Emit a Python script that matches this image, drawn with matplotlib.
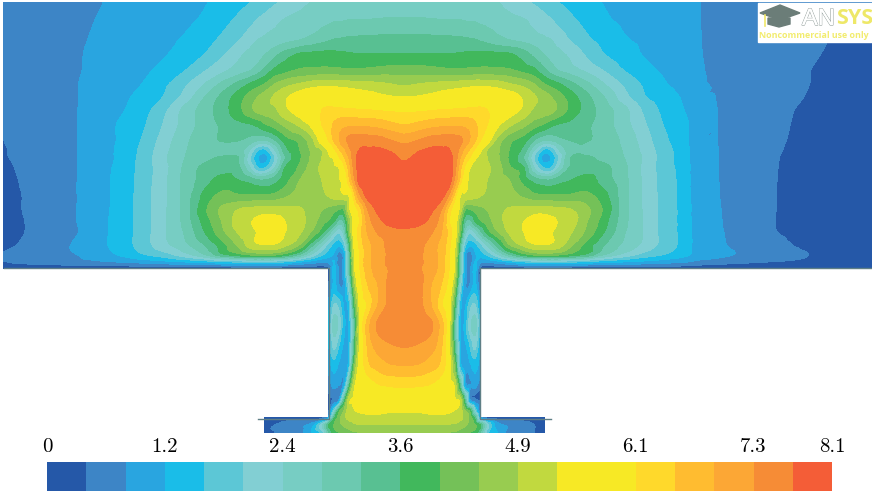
#!/usr/bin/env python
"""
Filled velocity contours over the jet geometry, with the colour bar below.
Field values are read off the picture in colour-band units (band k spans k..k+1).
"""

import matplotlib

matplotlib.use("Agg")
import matplotlib.patheffects as pe
import matplotlib.pyplot as plt
import matplotlib.tri as mtri
import numpy as np
from matplotlib.patches import Polygon, Rectangle

n = np.nan

# x of the left half, the centre line is at the last column
x_left = [4, 25, 50, 75, 100, 125, 145, 165, 185, 205, 222, 240, 250, 258, 265, 275,
          285, 300, 312, 322, 329, 334, 339, 344, 349, 354, 360, 368, 378, 390, 404]
y_rows = [3, 20, 40, 55, 70, 85, 97, 110, 125, 140, 150, 158, 168, 180, 195, 210,
          222, 232, 245, 255, 262, 268, 285, 305, 325, 345, 365, 385, 400, 411, 418, 425, 432]

# outer columns of the right side, the domain is longer there
x_right = [700, 717, 735, 755, 775, 790, 805, 820, 840, 872]

bands_left = [
    [1.25, 1.4, 1.55, 1.75, 1.97, 2.2, 2.35, 2.55, 2.75, 2.95, 3.3, 3.75, 4, 4.3, 4.55, 4.9, 5.2, 5.7, 6.05, 6.2, 6.3, 6.3, 6.35, 6.4, 6.4, 6.45, 6.5, 6.5, 6.55, 6.6, 6.6],
    [1.2, 1.4, 1.6, 1.8, 2.05, 2.3, 2.45, 2.65, 2.85, 3.15, 3.65, 4.25, 4.65, 5.05, 5.3, 5.7, 6.05, 6.3, 6.5, 6.7, 6.8, 6.9, 6.9, 6.95, 7, 7, 7, 7.02, 7.05, 7.1, 7.1],
    [1.15, 1.35, 1.6, 1.85, 2.15, 2.45, 2.65, 2.85, 3.1, 3.65, 4.2, 5, 5.6, 6, 6.2, 6.45, 6.7, 7, 7.35, 7.7, 7.9, 8.05, 8.1, 8.15, 8.2, 8.2, 8.25, 8.25, 8.3, 8.3, 8.3],
    [1.1, 1.35, 1.6, 1.9, 2.2, 2.5, 2.7, 2.95, 3.45, 4.05, 4.85, 5.85, 6.3, 6.6, 7, 7.75, 8.5, 9.2, 9.3, 9.35, 9.35, 9.3, 9.25, 9.2, 9.15, 9.1, 9.1, 9.1, 9.1, 9.1, 9.1],
    [1.05, 1.3, 1.6, 1.9, 2.25, 2.6, 2.85, 3.3, 3.95, 4.9, 5.7, 6.5, 6.9, 7.5, 8.2, 9.2, 9.6, 10.1, 10.2, 10.25, 10.25, 10.2, 10.2, 10.15, 10.1, 10.1, 10.15, 10.2, 10.3, 10.4, 10.4],
    [1.05, 1.3, 1.6, 1.95, 2.3, 2.7, 3.1, 3.85, 4.85, 6.1, 7.3, 8.5, 9.2, 9.7, 10.15, 11.1, 11.7, 12.2, 12.6, 12.75, 12.8, 12.8, 12.7, 12.65, 12.6, 12.55, 12.5, 12.4, 12.3, 12.1, 11.9],
    [1.05, 1.3, 1.6, 1.95, 2.35, 2.85, 3.4, 4.1, 5.35, 7, 8.25, 9.6, 10.4, 11, 11.5, 12.15, 12.8, 13.6, 14, 14.1, 14.1, 14.05, 14, 13.9, 13.8, 13.7, 13.6, 13.5, 13.3, 13.1, 13],
    [1, 1.3, 1.6, 1.95, 2.4, 3, 3.7, 4.8, 6.3, 7.5, 8.5, 9.8, 10.7, 11.3, 11.5, 11.8, 12.7, 13.6, 14.5, 15, 15.2, 15.2, 15.2, 15.15, 15.1, 15.1, 15, 15, 14.9, 14.8, 14.7],
    [1, 1.3, 1.6, 1.95, 2.45, 3.3, 3.95, 5.15, 6.4, 7.45, 8.15, 8.7, 8.85, 9.2, 9.8, 10.4, 11.2, 12.2, 13.3, 15, 15.7, 16.1, 16.5, 16.7, 16.8, 16.8, 16.8, 16.75, 16.6, 16.3, 16],
    [1, 1.25, 1.6, 1.95, 2.5, 3.3, 4.2, 5.5, 6.75, 7.6, 8.05, 8, 7.6, 7.1, 7, 8, 9.4, 10.3, 11.7, 13.7, 15.1, 16.1, 16.9, 17.7, 18.2, 18.4, 18.5, 18.5, 18.4, 18, 17.6],
    [0.95, 1.25, 1.6, 1.95, 2.55, 3.4, 4.4, 5.7, 6.9, 7.5, 7.65, 7.4, 5.9, 4, 3.7, 6, 8.5, 10, 11.2, 12, 13.3, 14.7, 15.8, 16.6, 17.7, 18.4, 19.05, 19.15, 19.15, 18.9, 18.5],
    [0.93, 1.2, 1.6, 1.95, 2.55, 3.4, 4.5, 5.85, 7, 7.7, 8.1, 7.8, 5, 3, 2.5, 5, 7.9, 9.85, 11.2, 12, 12.7, 13.2, 14.8, 15.8, 17, 18.5, 19.4, 19.5, 19.4, 19.3, 18.85],
    [0.85, 1.15, 1.6, 1.95, 2.6, 3.5, 4.5, 5.7, 7.2, 8.3, 8.5, 8, 6, 4, 4, 6, 9, 10.2, 11.5, 12.2, 12.5, 12.65, 12.95, 14.7, 16.3, 18.2, 19.5, 19.8, 19.8, 19.7, 19.3],
    [0.8, 1.1, 1.6, 1.95, 2.65, 3.55, 4.55, 5.8, 7.3, 8.5, 9.4, 8.9, 8.5, 8, 8, 8.5, 9.5, 11, 11.5, 12, 12.4, 12.6, 12.85, 13.5, 15.7, 17.6, 19.6, 19.9, 19.9, 19.9, 19.7],
    [0.75, 1.05, 1.6, 1.95, 2.65, 3.55, 4.6, 5.8, 7.35, 9.3, 10.2, 10.05, 10, 10, 10, 10.2, 10.7, 11.4, 11.6, 11.8, 12.1, 12.4, 12.65, 12.85, 13.1, 15.5, 17.9, 19.5, 19.9, 19.9, 19.9],
    [0.7, 1.05, 1.55, 1.95, 2.65, 3.6, 4.6, 5.85, 7.4, 9.8, 11.2, 12.1, 12.3, 12.4, 12.5, 12.4, 12.3, 12.1, 11.6, 11, 10.6, 10.3, 9.85, 9.95, 12.5, 14, 15.5, 18, 19.2, 19.9, 19.9],
    [0.62, 1, 1.55, 1.95, 2.7, 3.6, 4.6, 5.9, 7.3, 9.4, 11, 12.6, 12.9, 13.3, 13.5, 13.6, 13, 12.3, 11.5, 10.3, 9.7, 8.8, 7.5, 8, 11, 13.7, 15.1, 17.4, 18.6, 19.3, 19.6],
    [0.55, 1, 1.5, 1.9, 2.7, 3.6, 4.6, 5.9, 7.1, 9, 10.7, 12.2, 12.6, 13.1, 13.6, 13.6, 13, 12.1, 10.8, 9.3, 7.5, 6, 5.2, 6.5, 10.5, 13.7, 15.6, 17.1, 18.1, 18.5, 18.7],
    [0.6, 1.2, 1.5, 2.1, 2.75, 3.6, 4.6, 5.7, 6.7, 8, 9.5, 11.3, 12.4, 12.8, 12.9, 12.8, 12.2, 10.8, 8.2, 6, 4.5, 3.6, 3.2, 4.3, 8.5, 13, 15.3, 16.6, 17.5, 18.3, 18.6],
    [1.1, 1.4, 1.7, 1.95, 2.5, 3.2, 3.9, 4.5, 5.5, 6.8, 8.5, 9.4, 9.9, 10, 10, 9.9, 9.2, 7.5, 5.5, 4, 3.3, 2.8, 1.5, 2.5, 7.5, 12.7, 15, 16.6, 17.4, 18.2, 18.6],
    [0.95, 1.2, 1.4, 1.6, 1.8, 2.05, 2.3, 2.6, 2.9, 3.2, 3.6, 4, 4.2, 4.2, 4.2, 4.1, 3.8, 3, 2.4, 2.1, 2.2, 3, 1.2, 2.5, 7.5, 12.6, 15, 16.6, 17.5, 18.2, 18.6],
    [0.4, 0.3, 0.3, 0.3, 0.3, 0.3, 0.3, 0.3, 0.3, 0.3, 0.3, 0.3, 0.3, 0.3, 0.3, 0.3, 0.3, 0.3, 0.3, 0.3, 0.8, 3.3, 1.8, 2.5, 7.5, 12.5, 15, 16.5, 17.5, 18.1, 18.7],
    [n, n, n, n, n, n, n, n, n, n, n, n, n, n, n, n, n, n, n, n, 1, 3.2, 2, 2.2, 5.5, 11, 14.3, 16, 17, 18.3, 18.8],
    [n, n, n, n, n, n, n, n, n, n, n, n, n, n, n, n, n, n, n, n, 2.5, 5, 4.5, 2.8, 3.5, 9, 13.5, 15.2, 17, 18.3, 18.9],
    [n, n, n, n, n, n, n, n, n, n, n, n, n, n, n, n, n, n, n, n, 3.5, 6.5, 5.5, 3.2, 3, 7.5, 13.5, 16.5, 18.2, 18.8, 18.9],
    [n, n, n, n, n, n, n, n, n, n, n, n, n, n, n, n, n, n, n, n, 3, 5.3, 4, 2.8, 3.2, 8, 13.3, 16.2, 17.4, 17.9, 18.1],
    [n, n, n, n, n, n, n, n, n, n, n, n, n, n, n, n, n, n, n, n, 2.5, 3.5, 2.8, 2.3, 3.5, 10, 13.7, 15.7, 16.4, 16.9, 17],
    [n, n, n, n, n, n, n, n, n, n, n, n, n, n, n, n, n, n, n, n, 1.5, 2.3, 2, 2.5, 8, 12.5, 13.4, 14.3, 14.9, 15.1, 15.2],
    [n, n, n, n, n, n, n, n, n, n, n, n, n, n, n, n, n, n, n, n, 0.7, 1.2, 2, 8, 12.5, 13.1, 13.4, 13.7, 13.9, 14, 14],
    [n, n, n, n, n, n, n, n, n, n, n, n, n, n, n, n, n, n, n, n, 1, 5, 9.5, 11, 12.5, 12.9, 13.1, 13.2, 13.2, 13.1, 13.1],
    [n, n, n, n, n, n, n, n, n, n, n, n, n, n, 0.3, 0.3, 0.4, 0.5, 0.5, 0.8, 3, 8.5, 10.5, 11.7, 12.2, 12.4, 12.6, 12.7, 12.7, 12.6, 12.7],
    [n, n, n, n, n, n, n, n, n, n, n, n, n, n, 0.6, 1, 1.5, 1.8, 2.5, 5.5, 9, 10, 10.6, 11.1, 11.5, 11.8, 11.9, 11.95, 11.95, 11.9, 11.95],
    [n, n, n, n, n, n, n, n, n, n, n, n, n, n, 0.9, 1, 1.3, 1.7, 3, 4.5, 8, 9.6, 10, 10.3, 10.6, 10.9, 11, 11.2, 11.2, 11.3, 11.4],
]

# rows down to the wall at y=268, the rest of the table is outside the domain
bands_right = [
    [2, 1.85, 1.7, 1.55, 1.4, 1.3, 1.2, 1.12, 1.06, 1],
    [2, 1.85, 1.7, 1.55, 1.4, 1.28, 1.18, 1.1, 1.03, 0.96],
    [2.02, 1.85, 1.68, 1.5, 1.35, 1.22, 1.12, 1.04, 0.95, 0.85],
    [2.04, 1.85, 1.65, 1.45, 1.3, 1.18, 1.08, 1, 0.92, 0.8],
    [2.08, 1.87, 1.62, 1.42, 1.25, 1.13, 1.03, 0.95, 0.85, 0.72],
    [2.12, 1.93, 1.6, 1.38, 1.2, 1.1, 1.03, 0.9, 0.8, 0.68],
    [2.15, 1.98, 1.6, 1.36, 1.17, 1.07, 0.99, 0.88, 0.78, 0.65],
    [2.15, 2, 1.6, 1.33, 1.14, 1.03, 0.92, 0.84, 0.75, 0.62],
    [2.15, 2, 1.6, 1.3, 1.12, 1, 0.9, 0.82, 0.72, 0.6],
    [2.15, 2, 1.6, 1.3, 1.1, 0.97, 0.87, 0.8, 0.7, 0.6],
    [2.15, 2.02, 1.6, 1.3, 1.07, 0.94, 0.85, 0.78, 0.7, 0.6],
    [2.15, 2.02, 1.6, 1.3, 1.04, 0.92, 0.83, 0.77, 0.7, 0.6],
    [2.15, 2.02, 1.6, 1.3, 1.03, 0.9, 0.82, 0.76, 0.7, 0.6],
    [2.15, 2.03, 1.6, 1.3, 1.02, 0.9, 0.82, 0.76, 0.7, 0.6],
    [2.2, 2.05, 1.6, 1.3, 1.01, 0.88, 0.8, 0.75, 0.7, 0.6],
    [2.25, 2.08, 1.65, 1.3, 1.01, 0.88, 0.8, 0.75, 0.7, 0.6],
    [2.3, 2.1, 1.7, 1.3, 1, 0.88, 0.8, 0.75, 0.7, 0.6],
    [2.3, 2.13, 1.75, 1.35, 1.02, 0.9, 0.8, 0.75, 0.7, 0.6],
    [2.4, 2.2, 1.8, 1.5, 1.2, 1.02, 0.85, 0.75, 0.7, 0.6],
    [2.6, 2.3, 1.95, 1.6, 1.3, 1.2, 1.03, 0.9, 0.8, 0.75],
    [1.6, 1.4, 1.2, 1.05, 0.95, 0.9, 0.85, 0.8, 0.8, 0.8],
    [0.3, 0.3, 0.3, 0.3, 0.3, 0.3, 0.3, 0.3, 0.3, 0.3],
]

band_colors = ["#2558a8", "#3d85c6", "#29a5e0", "#1abde8", "#5cc7d6", "#82cfd3", "#77cdc3",
               "#6cc9b0", "#58c092", "#41b85c", "#74c158", "#98cc50", "#c1d93f", "#f7e925",
               "#f7e925", "#ffd92b", "#ffbc30", "#fca735", "#f68c36", "#f45d37"]
tick_values = [0, 1.215, 2.43, 3.645, 4.86, 6.075, 7.29, 8.1]
tick_labels = ["0", "1.2", "2.4", "3.6", "4.9", "6.1", "7.3", "8.1"]

V_MAX = 8.1
CENTRE_SUM = 809  # x + mirrored x, walls at 329 and 480

plt.rcParams["font.family"] = ["cmr10", "DejaVu Serif"]
plt.rcParams["axes.formatter.use_mathtext"] = True

left = np.array(bands_left)
outer = np.full((len(y_rows), len(x_right)), np.nan)
outer[: len(bands_right)] = np.array(bands_right)

# right half is the left half mirrored, out to x=125 on the left side
x_mid = [CENTRE_SUM - x for x in x_left[29:4:-1]]
mid = left[:, 29:4:-1]
xs = np.array(x_left + x_mid + x_right, dtype=float)
ys = np.array(y_rows, dtype=float)
field = np.hstack([left, mid, outer]) * V_MAX / len(band_colors)
levels = np.linspace(0, V_MAX, len(band_colors) + 1)

# triangles of the table, without the cells that touch the empty part
gx, gy = np.meshgrid(xs, ys)
nrow, ncol = gx.shape
valid = np.isfinite(field)
triangles = []
for i in range(nrow - 1):
    for j in range(ncol - 1):
        a, b, c, d = i * ncol + j, i * ncol + j + 1, (i + 1) * ncol + j, (i + 1) * ncol + j + 1
        if valid[i, j] and valid[i, j + 1] and valid[i + 1, j] and valid[i + 1, j + 1]:
            triangles += [[a, b, c], [b, d, c]]
tri = mtri.Triangulation(gx.ravel(), gy.ravel(), triangles)

# smooth band edges with matplotlib's own mesh refiner
refiner = mtri.UniformTriRefiner(tri)
fine_tri, fine_field = refiner.refine_field(
    np.nan_to_num(field).ravel(),
    triinterpolator=mtri.CubicTriInterpolator(tri, np.nan_to_num(field).ravel(), kind="geom"),
    subdiv=3,
)
fine_field = np.clip(fine_field, 0.01, V_MAX - 0.01)

fig = plt.figure(figsize=(8.72, 4.94), dpi=100)
ax = fig.add_axes([0, 0, 1, 1])
ax.set_xlim(0, 872)
ax.set_ylim(494, 0)
ax.axis("off")

cs = ax.tricontourf(fine_tri, fine_field, levels=levels, colors=band_colors)
cs.set_edgecolor("face")
cs.set_linewidth(0.3)

# walls
wall = "#5f7f86"
ax.plot([4, 329, 329, 258], [268, 268, 419, 419], color=wall, lw=1.0)
ax.plot([872, 480, 480, 551], [268, 268, 419, 419], color=wall, lw=1.0)

# licence stamp in the corner
ax.add_patch(Rectangle((758, 3), 114, 39, color="white", zorder=3))
ax.add_patch(Polygon([[760, 13], [780, 5], [800, 13], [780, 20]], color="#6b7d78", zorder=4))
ax.add_patch(Polygon([[768, 18], [790, 18], [790, 24], [779, 27], [768, 24]], color="#6b7d78", zorder=4))
ax.plot([765, 765], [15, 26], color="#f0e868", lw=1.2, zorder=5)
ax.text(802, 19, "AN", family="Liberation Sans", fontsize=17, color="white", va="center", ha="left",
        zorder=5, path_effects=[pe.withStroke(linewidth=0.9, foreground="#9aa5a2"), pe.Normal()])
ax.text(836, 19, "SYS", family="Open Sans", weight="bold", fontsize=15.5, color="#eee868", va="center",
        ha="left", zorder=5)
ax.text(759, 35.5, "Noncommercial use only", family="Open Sans", weight="bold", fontsize=6.4,
        color="#f2ec6e", va="center", ha="left", zorder=5)

# colour bar
cax = fig.add_axes([47 / 872, 1 - 491 / 494, (832 - 47) / 872, 29 / 494])
cbar = fig.colorbar(cs, cax=cax, orientation="horizontal", ticks=tick_values)
cbar.ax.xaxis.set_ticks_position("top")
cbar.ax.set_xticklabels(tick_labels)
cbar.ax.tick_params(length=0, pad=4, labelsize=15)
cbar.outline.set_visible(False)

fig.savefig("out.png", dpi=100)
